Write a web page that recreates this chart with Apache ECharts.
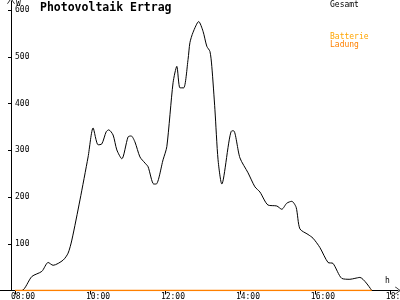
<!DOCTYPE html>
<html>
<head>
<meta charset="utf-8">
<script src="https://cdn.jsdelivr.net/npm/echarts@6/dist/echarts.min.js"></script>
<style>html,body{margin:0;padding:0;background:#fff;}#c{width:400px;height:300px;}</style>
</head>
<body>
<div id="c"></div>
<script>
// time in minutes after midnight
var gesamtTimes = [480,491,507,523,533,541,557,565,571,584,597,605,613,619,626,630,637,643,651,661,666,672,680,688,693,702,706,717,723,733,739,744,750,757,760,765,774,781,787,792,795,800,805,811,827,830,840,853,864,872,885,899,907,915,923,930,936,949,957,968,981,989,1003,1016,1024,1032,1051];
var gesamtValues = [0,0,30,41,60,54,65,80,108,194,286,348,312,314,340,344,333,301,282,329,331,318,286,273,265,228,228,280,308,445,480,434,434,495,531,553,576,555,523,512,480,387,280,228,342,342,284,252,222,211,183,181,174,187,191,178,132,120,112,92,60,58,26,24,26,28,0];
var ladungTimes = [480,1051];
var ladungValues = [0,0];
var batterieValues = [];
var xTicks = [480,600,720,840,960,1080];
var yTicks = [0,100,200,300,400,500,600];
var seriesNames = ['Gesamt','Batterie','Ladung'];

function pairs(t, v){ var out=[]; for(var i=0;i<t.length;i++) out.push([t[i], v[i]]); return out; }
function hhmm(m){ var h=Math.floor(m/60), mm=Math.round(m%60); return (h<10?'0':'')+h+':'+(mm<10?'0':'')+mm; }

var FONT = 'DejaVu Sans Mono';
var chevronUp = 'path://M0,0 L5,7 L4,7 L0,1.4 L-4,7 L-5,7 Z';

var chart = echarts.init(document.getElementById('c'), null, {renderer:'canvas'});
chart.setOption({
  animation: false,
  backgroundColor: '#ffffff',
  grid: {left: 0, right: 2, top: 1, bottom: 9.5, containLabel: false, outerBoundsMode: 'none'},
  xAxis: {
    type: 'value', min: 456, max: 1093,
    axisLine: {show: true, lineStyle: {color: '#000', width: 1}, symbol: ['none', chevronUp], symbolSize: [8, 6]},
    axisTick: {show: true, length: 4, customValues: xTicks, lineStyle: {color: '#000'}},
    axisLabel: {customValues: xTicks, formatter: function(v){return '{a|' + hhmm(v) + '}';},
      rich: {a: {fontFamily: FONT, fontSize: 8, color: '#000', padding: [0,0,0,16], lineHeight: 8}},
      align: 'center', margin: 2, hideOverlap: false},
    splitLine: {show: false}
  },
  yAxis: {
    type: 'value', min: 0, max: 620, offset: -11,
    axisLine: {show: true, lineStyle: {color: '#000', width: 1}, symbol: ['none', chevronUp], symbolSize: [8, 6]},
    axisTick: {show: true, length: 3, customValues: yTicks, lineStyle: {color: '#000'}},
    axisLabel: {customValues: yTicks, showMinLabel: false, inside: true, margin: 4, fontFamily: FONT, fontSize: 8, color: '#000'},
    splitLine: {show: false}
  },
  series: [
    {name: seriesNames[0], type: 'line', data: pairs(gesamtTimes, gesamtValues), showSymbol: false, smooth: 0.25, lineStyle: {color: '#000', width: 1}, z: 2},
    {name: seriesNames[1], type: 'line', data: batterieValues, showSymbol: false, lineStyle: {color: '#FFA500', width: 1}},
    {name: seriesNames[2], type: 'line', data: pairs(ladungTimes, ladungValues), showSymbol: false, lineStyle: {color: '#FF8000', width: 1.3}, z: 3}
  ],
  graphic: [
    {type: 'text', left: 40, top: 2, style: {text: 'Photovoltaik Ertrag', font: 'bold 11.5px "DejaVu Sans Mono"', fill: '#000'}},
    {type: 'text', left: 16, top: 0, style: {text: 'W', font: '8px "DejaVu Sans Mono"', fill: '#000'}},
    {type: 'text', left: 385, top: 277, style: {text: 'h', font: '8px "DejaVu Sans Mono"', fill: '#000'}},
    {type: 'text', left: 330, top: 1, style: {text: seriesNames[0], font: '8px "DejaVu Sans Mono"', fill: '#000'}},
    {type: 'text', left: 330, top: 33, style: {text: seriesNames[1], font: '8px "DejaVu Sans Mono"', fill: '#FFA500'}},
    {type: 'text', left: 330, top: 41, style: {text: seriesNames[2], font: '8px "DejaVu Sans Mono"', fill: '#FF8000'}}
  ]
});
</script>
</body>
</html>
